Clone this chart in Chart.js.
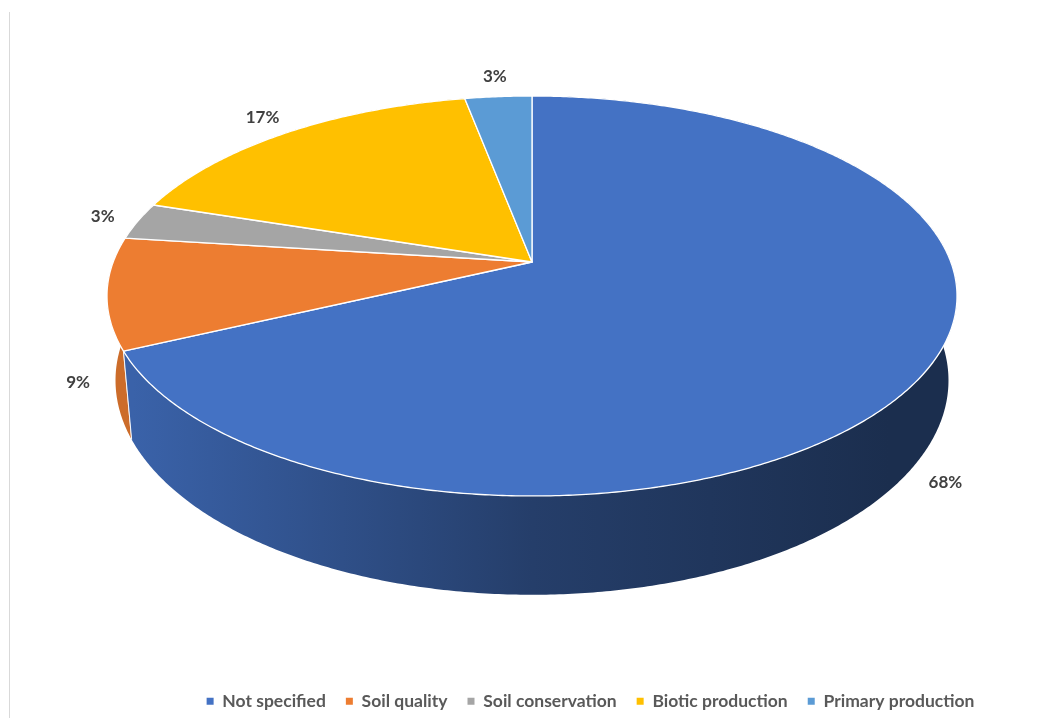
<!DOCTYPE html>
<html><head><meta charset="utf-8">
<script src="https://cdn.jsdelivr.net/npm/chart.js@4.4.1/dist/chart.umd.min.js"></script>
<style>html,body{margin:0;padding:0;background:#fff}#wrap{width:1041px;height:718px;position:relative}</style>
</head><body><div id="wrap"><canvas id="c"></canvas></div>
<script>
// ---- data ----
const categories = ['Not specified', 'Soil quality', 'Soil conservation', 'Biotic production', 'Primary production'];
const shares = [68, 9, 3, 17, 3];
const pctLabels = ['68%', '9%', '3%', '17%', '3%'];
const sliceColors = ['#4472C4', '#ED7D31', '#A5A5A5', '#FFC000', '#5B9BD5'];

// ---- perspective geometry of the 3D pie ----
const GEO = {cx: 532, cy: 262, A: 418.8, B: 194.2, k: 0.17, D: 82, s: 0.98};
function proj(a, bottom) {
  const u = Math.cos(a), v = -Math.sin(a);
  const w = 1 + GEO.k * v;
  const sx = bottom ? GEO.s : 1;
  return [GEO.cx + GEO.A * u * sx / w, GEO.cy - GEO.B * v / w + (bottom ? GEO.D / w : 0)];
}
function hexToRgb(h) { const n = parseInt(h.slice(1), 16); return [(n >> 16) & 255, (n >> 8) & 255, n & 255]; }
function shade(h, f) { const c = hexToRgb(h).map(x => Math.round(x * f)); return `rgb(${c[0]},${c[1]},${c[2]})`; }
function samples(a0, a1) {
  const n = Math.max(2, Math.ceil(Math.abs(a1 - a0) / (Math.PI / 360)));
  const out = [];
  for (let j = 0; j <= n; j++) out.push(a0 + (a1 - a0) * j / n);
  return out;
}

const pie3d = {
  id: 'pie3d',
  beforeDraw(chart) {
    const c = chart.ctx;
    c.save();
    c.fillStyle = '#fff';
    c.fillRect(0, 0, chart.width, chart.height);
    c.strokeStyle = '#d9d9d9';
    c.lineWidth = 1;
    c.beginPath(); c.moveTo(9.5, 12); c.lineTo(9.5, chart.height); c.stroke();
    c.restore();
  },
  beforeDatasetsDraw(chart) {
    const ctx = chart.ctx;
    const meta = chart.getDatasetMeta(0);
    const ds = chart.data.datasets[0];
    const arcs = meta.data.map((el, i) => ({i, a0: el.startAngle, a1: el.endAngle, color: ds.backgroundColor[i]}));
    ctx.save();
    // side walls, back to front
    const order = arcs.slice().sort((p, q) => Math.sin((p.a0 + p.a1) / 2) - Math.sin((q.a0 + q.a1) / 2));
    for (const s of order) {
      const pts = samples(s.a0, s.a1);
      const g = ctx.createLinearGradient(GEO.cx - 425, 0, GEO.cx + 425, 0);
      g.addColorStop(0.03, shade(s.color, 0.86));
      g.addColorStop(0.5, shade(s.color, 0.54));
      g.addColorStop(0.92, shade(s.color, 0.40));
      g.addColorStop(1, shade(s.color, 0.40));
      ctx.beginPath();
      pts.forEach((a, j) => { const p = proj(a, false); j ? ctx.lineTo(p[0], p[1]) : ctx.moveTo(p[0], p[1]); });
      for (let j = pts.length - 1; j >= 0; j--) { const p = proj(pts[j], true); ctx.lineTo(p[0], p[1]); }
      ctx.closePath();
      ctx.fillStyle = g;
      ctx.fill();
      ctx.strokeStyle = 'rgba(255,255,255,0.9)';
      ctx.lineWidth = 1;
      for (const a of [s.a0, s.a1]) {
        if (-Math.sin(a) < 0) {
          const t = proj(a, false), b = proj(a, true);
          ctx.beginPath(); ctx.moveTo(t[0], t[1]); ctx.lineTo(b[0], b[1]); ctx.stroke();
        }
      }
    }
    // top faces
    for (const s of arcs) {
      ctx.beginPath();
      ctx.moveTo(GEO.cx, GEO.cy);
      samples(s.a0, s.a1).forEach(a => { const p = proj(a, false); ctx.lineTo(p[0], p[1]); });
      ctx.closePath();
      ctx.fillStyle = s.color;
      ctx.fill();
      ctx.strokeStyle = '#ffffff';
      ctx.lineWidth = 1.3;
      ctx.lineJoin = 'round';
      ctx.stroke();
    }
    // data labels
    ctx.fillStyle = '#404040';
    ctx.font = 'bold 17px Lato, "Open Sans", sans-serif';
    ctx.textAlign = 'center';
    ctx.textBaseline = 'middle';
    for (const s of arcs) {
      const m = (s.a0 + s.a1) / 2;
      const u = Math.cos(m), v = -Math.sin(m);
      const front = v < 0;
      const p = proj(m, front);
      const x = p[0] + (front ? 38 : 36) * u;
      const y = p[1] + (front ? 30 : 20) * (-v);
      ctx.fillText(pctLabels[s.i], x, y);
    }
    ctx.restore();
    return false;
  }
};

new Chart(document.getElementById('c'), {
  type: 'pie',
  data: {
    labels: categories,
    datasets: [{data: shares, backgroundColor: sliceColors, borderWidth: 0}]
  },
  options: {
    responsive: true,
    maintainAspectRatio: false,
    animation: false,
    layout: {padding: {top: 10, bottom: -2, left: 160, right: 20}},
    plugins: {
      tooltip: {enabled: false},
      legend: {
        position: 'bottom',
        labels: {
          usePointStyle: true,
          pointStyle: 'rect',
          boxHeight: 7,
          boxWidth: 7,
          color: '#595959',
          font: {family: 'Lato', size: 17.5, weight: 'bold'},
          padding: 20
        }
      }
    }
  },
  plugins: [pie3d]
});
</script>
</body></html>
